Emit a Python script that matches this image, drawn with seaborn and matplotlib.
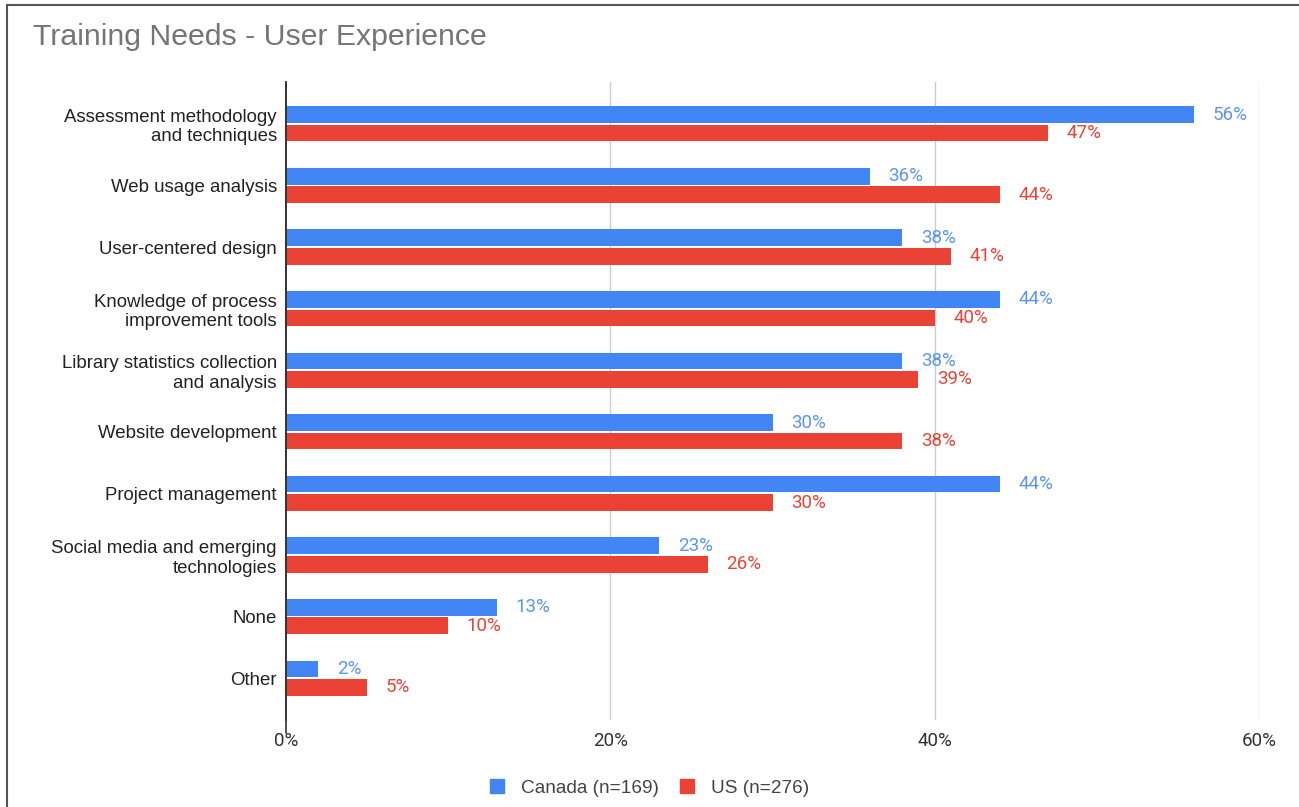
import matplotlib
matplotlib.use("Agg")
import matplotlib.pyplot as plt
import seaborn as sns
import pandas as pd
from matplotlib.lines import Line2D
from matplotlib.patches import Patch

categories = [
    "Assessment methodology\nand techniques",
    "Web usage analysis",
    "User-centered design",
    "Knowledge of process\nimprovement tools",
    "Library statistics collection\nand analysis",
    "Website development",
    "Project management",
    "Social media and emerging\ntechnologies",
    "None",
    "Other",
]
canada = [56, 36, 38, 44, 38, 30, 44, 23, 13, 2]
us = [47, 44, 41, 40, 39, 38, 30, 26, 10, 5]
series_names = ["Canada (n=169)", "US (n=276)"]
x_ticks = [0, 20, 40, 60]

BLUE = "#4285F4"
RED = "#EA4335"
BLUE_TXT = "#5B95F5"
RED_TXT = "#EA4335"
NUM_FONT = ["Roboto", "DejaVu Sans"]

df = pd.DataFrame({
    "category": categories * 2,
    "value": canada + us,
    "series": [series_names[0]] * len(categories) + [series_names[1]] * len(categories),
})

sns.set_theme(style="white")
plt.rcParams["font.family"] = ["Liberation Sans", "DejaVu Sans"]

fig = plt.figure(figsize=(12.99, 8.07), dpi=100)
ax = fig.add_axes([286 / 1299, 1 - 720 / 807, (1259 - 286) / 1299, (720 - 82) / 807])

sns.barplot(
    data=df, y="category", x="value", hue="series", order=categories,
    hue_order=series_names, palette=[BLUE, RED], orient="h",
    width=0.6, gap=0.1, ax=ax, legend=False, saturation=1, linewidth=0,
)

ax.set_xlim(0, 60)
ax.set_ylim(9.68, -0.68)
ax.set_xticks(x_ticks)
ax.set_xticklabels([f"{t}%" for t in x_ticks], fontsize=13.5, color="#333333",
                   family=NUM_FONT)
ax.set_xlabel("")
ax.set_ylabel("")
ax.tick_params(axis="y", length=0, pad=6.5, labelsize=13.4, labelcolor="#222222")
ax.tick_params(axis="x", length=0, pad=9)
for lab in ax.get_yticklabels():
    lab.set_horizontalalignment("right")
    lab.set_linespacing(1.2)

for s in ["top", "right", "bottom"]:
    ax.spines[s].set_visible(False)
ax.spines["left"].set_color("#333333")
ax.spines["left"].set_linewidth(1.2)
for t in x_ticks[1:]:
    ax.axvline(t, color="#cccccc", lw=1, zorder=0)
ax.axvline(0, ymin=-0.02, ymax=1, color="#333333", lw=1.2, clip_on=False, zorder=3)

for container, txt_color in zip(ax.containers, [BLUE_TXT, RED_TXT]):
    for bar in container:
        w = bar.get_width()
        ax.annotate(f"{w:.0f}%", xy=(w, bar.get_y() + bar.get_height() / 2),
                    xytext=(13.5, 0), textcoords="offset points",
                    ha="left", va="center", fontsize=13.5, color=txt_color,
                    family=NUM_FONT)

fig.text(33 / 1299, 1 - 37 / 807, "Training Needs - User Experience",
         fontsize=21.8, color="#757575", ha="left", va="center")

handles = [Patch(facecolor=BLUE, edgecolor=BLUE), Patch(facecolor=RED, edgecolor=RED)]
fig.legend(handles, series_names, loc="center", bbox_to_anchor=(0.5, 1 - 788 / 807),
           ncol=2, frameon=False, fontsize=13.7, handlelength=0.75, handleheight=0.75,
           handletextpad=0.9, columnspacing=1.1, labelcolor="#444444")

# outer frame edges
fig.add_artist(Line2D([7 / 1299, 1], [1 - 5 / 807, 1 - 5 / 807], color="#555555", lw=1.5))
fig.add_artist(Line2D([7 / 1299, 7 / 1299], [0, 1 - 5 / 807], color="#555555", lw=1.5))

fig.savefig("out.png", dpi=100)
